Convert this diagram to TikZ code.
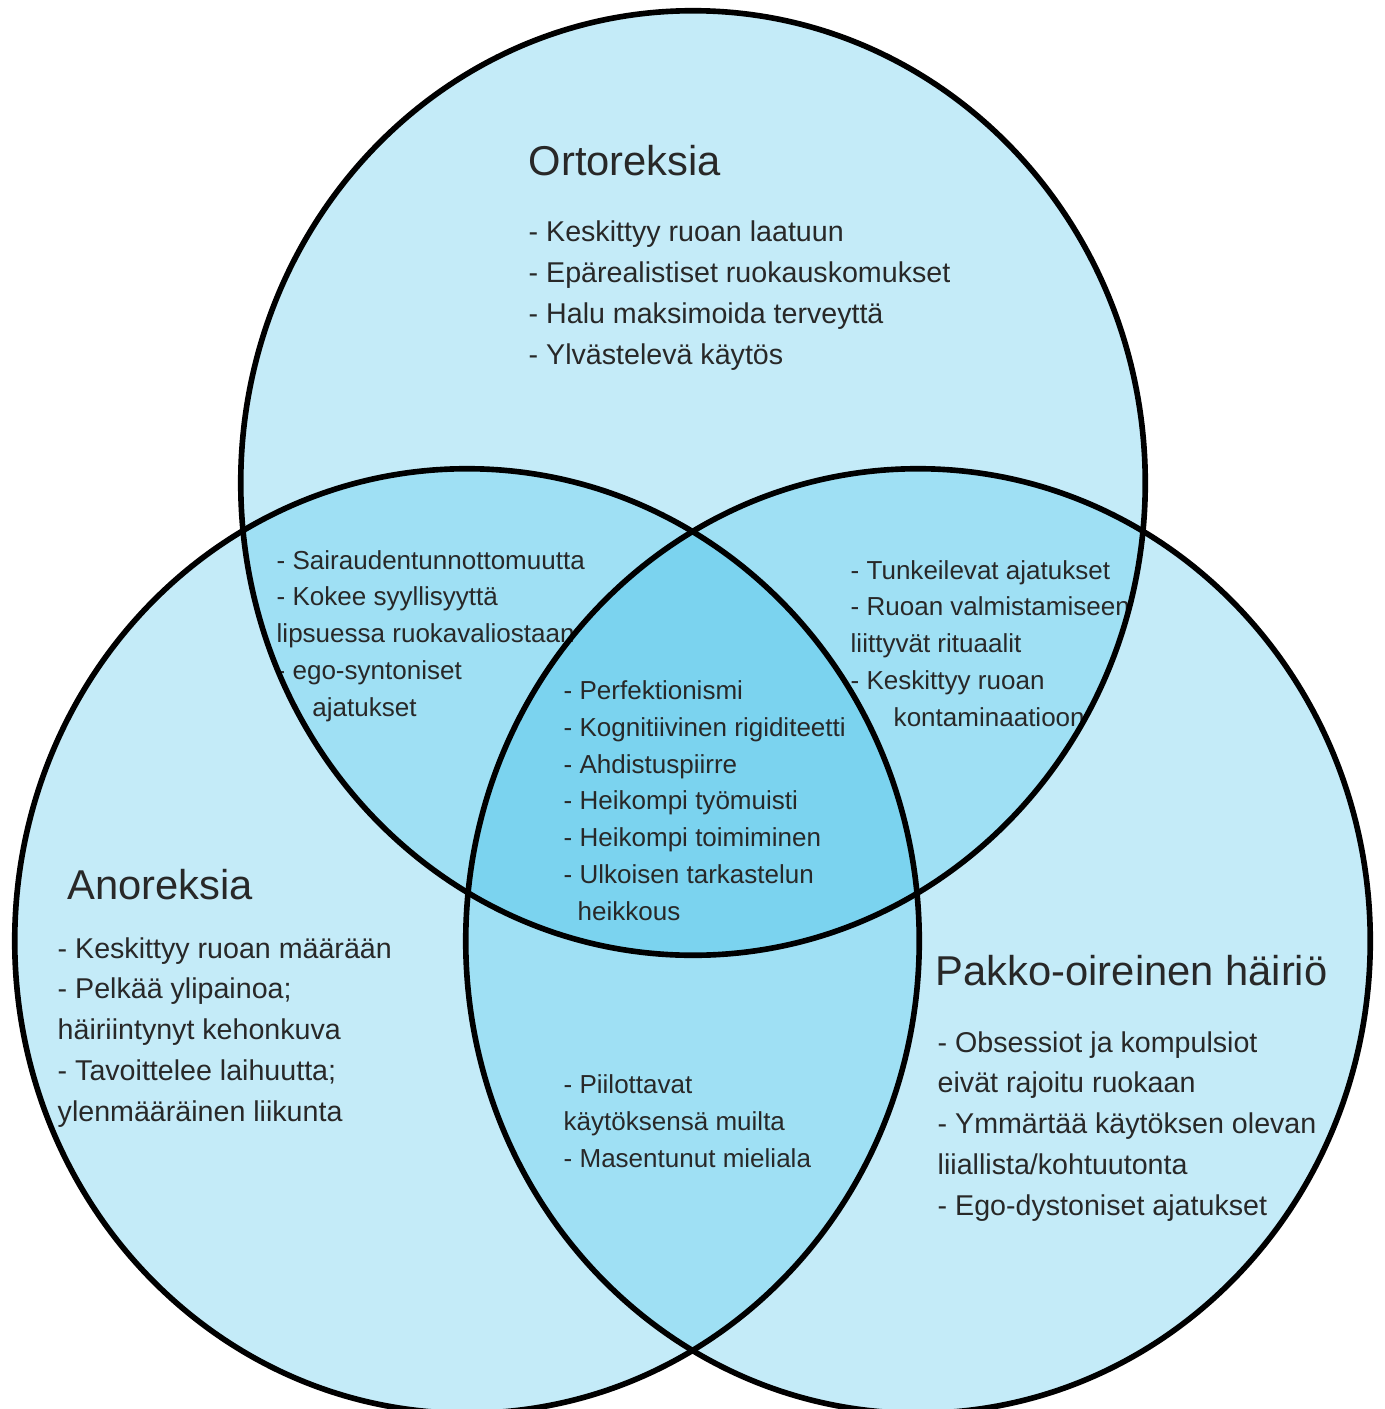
\documentclass[tikz,border=0pt]{standalone}
\usepackage{fontspec}
\setmainfont{Liberation Sans}
\definecolor{ink}{RGB}{40,40,40}
\definecolor{onefill}{RGB}{196,235,248}
\definecolor{twofill}{RGB}{159,224,244}
\definecolor{threefill}{RGB}{123,211,239}
\tikzset{
  heading/.style={font=\fontsize{11.86}{14}\selectfont, text=ink, inner sep=0pt, anchor=base west},
  listout/.style={font=\fontsize{8.14}{11.58}\selectfont, text=ink, inner sep=0pt, anchor=base west, align=left},
  listin/.style={font=\fontsize{7.40}{10.44}\selectfont, text=ink, inner sep=0pt, anchor=base west, align=left},
}
\def\rx{4.52cm}
\def\ry{4.72cm}

\begin{document}
\begin{tikzpicture}[x=0.01cm, y=-0.01cm]
            \useasboundingbox (0,0) rectangle (1385,1409);
            \clip (0,0) rectangle (1385,1409);
            \coordinate (ort) at (693, 483);
            \coordinate (ano) at (467, 941);
            \coordinate (ocd) at (918, 941);
            % fills
            \fill[onefill] (ort) ellipse [x radius=\rx, y radius=\ry];
            \fill[onefill] (ano) ellipse [x radius=\rx, y radius=\ry];
            \fill[onefill] (ocd) ellipse [x radius=\rx, y radius=\ry];
            \begin{scope}
                \clip (ort) ellipse [x radius=\rx, y radius=\ry];
                \fill[twofill] (ano) ellipse [x radius=\rx, y radius=\ry];
                \fill[twofill] (ocd) ellipse [x radius=\rx, y radius=\ry];
            \end{scope}
            \begin{scope}
                \clip (ano) ellipse [x radius=\rx, y radius=\ry];
                \fill[twofill] (ocd) ellipse [x radius=\rx, y radius=\ry];
            \end{scope}
            \begin{scope}
                \clip (ort) ellipse [x radius=\rx, y radius=\ry];
                \clip (ano) ellipse [x radius=\rx, y radius=\ry];
                \fill[threefill] (ocd) ellipse [x radius=\rx, y radius=\ry];
            \end{scope}
            % texts (lists sit on the baseline of their last line)
            \node[heading] (ort title) at (528, 175) {Ortoreksia};
            \node[listout] (ort list) at (528, 364) {- Keskittyy ruoan laatuun\\- Epärealistiset ruokauskomukset\\- Halu maksimoida terveyttä\\- Ylvästelevä käytös};
            \node[heading] (ano title) at (67, 899) {Anoreksia};
            \node[listout] (ano list) at (57, 1121) {- Keskittyy ruoan määrään\\- Pelkää ylipainoa;\\häiriintynyt kehonkuva\\- Tavoittelee laihuutta;\\ylenmääräinen liikunta};
            \node[heading] (ocd title) at (935, 985) {Pakko-oireinen häiriö};
            \node[listout] (ocd list) at (937, 1215) {- Obsessiot ja kompulsiot\\eivät rajoitu ruokaan\\- Ymmärtää käytöksen olevan\\liiallista/kohtuutonta\\- Ego-dystoniset ajatukset};
            \node[listin] (ort ano) at (276, 716) {- Sairaudentunnottomuutta\\- Kokee syyllisyyttä\\lipsuessa ruokavaliostaan\\- ego-syntoniset\\\hspace*{0.357cm}ajatukset};
            \node[listin] (ort ocd) at (850, 726) {- Tunkeilevat ajatukset\\- Ruoan valmistamiseen\\liittyvät rituaalit\\- Keskittyy ruoan\\\hspace*{0.43cm}kontaminaatioon};
            \node[listin] (all three) at (563, 920) {- Perfektionismi\\- Kognitiivinen rigiditeetti\\- Ahdistuspiirre\\- Heikompi työmuisti\\- Heikompi toimiminen\\- Ulkoisen tarkastelun\\\hspace*{0.14cm}heikkous};
            \node[listin] (ano ocd) at (563, 1167) {- Piilottavat\\käytöksensä muilta\\- Masentunut mieliala};
            % outlines
            \draw[line width=1.6pt] (ort) ellipse [x radius=\rx, y radius=\ry];
            \draw[line width=1.6pt] (ano) ellipse [x radius=\rx, y radius=\ry];
            \draw[line width=1.6pt] (ocd) ellipse [x radius=\rx, y radius=\ry];
        \end{tikzpicture}
\end{document}
